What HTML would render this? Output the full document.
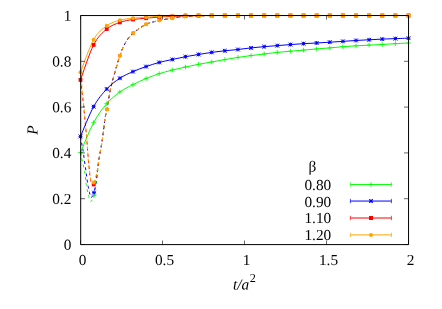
<!DOCTYPE html>
<html><head><meta charset="utf-8"><title>plot</title>
<style>
html,body{margin:0;padding:0;background:#fff;}
body{width:442px;height:309px;position:relative;overflow:hidden;font-family:"Liberation Serif",serif;}
.t{position:absolute;font-family:"Liberation Serif",serif;font-size:15px;line-height:17px;height:17px;color:#000;white-space:nowrap;}
</style></head><body>
<svg width="442" height="309" viewBox="0 0 442 309" style="position:absolute;left:0;top:0">
<rect width="442" height="309" fill="#fff"/>
<path d="M80.50,152.50 C80.75,153.67 81.32,156.32 82.00,159.50 C82.68,162.68 83.93,167.68 84.60,171.60 C85.27,175.52 85.57,179.97 86.00,183.00 C86.43,186.03 86.78,187.77 87.20,189.80 C87.62,191.83 87.97,193.28 88.50,195.20 C89.03,197.12 89.78,200.53 90.40,201.30 C91.02,202.07 91.60,200.75 92.20,199.80 C92.80,198.85 93.30,198.40 94.00,195.60" stroke="#00ff00" stroke-width="1" fill="none" stroke-dasharray="2.9 3.3"/>
<path d="M211.60,15.50 C209.42,15.55 202.95,15.65 198.50,15.80 C194.05,15.95 189.27,16.00 184.90,16.40 C180.53,16.80 176.57,17.52 172.30,18.20 C168.03,18.88 163.67,19.48 159.30,20.50 C154.93,21.52 150.45,22.20 146.10,24.30 C141.75,26.40 136.63,30.07 133.20,33.10 C129.77,36.13 127.72,38.73 125.50,42.50 C123.28,46.27 121.73,50.48 119.90,55.70 C118.07,60.92 116.08,68.17 114.50,73.80 C112.92,79.43 111.65,83.55 110.40,89.50 C109.15,95.45 107.90,104.72 107.00,109.50 C106.10,114.28 105.68,113.82 105.00,118.20 C104.32,122.58 103.58,130.75 102.90,135.80 C102.22,140.85 101.58,144.40 100.90,148.50 C100.22,152.60 99.35,156.48 98.80,160.40 C98.25,164.32 98.00,168.23 97.60,172.00 C97.20,175.77 97.00,179.07 96.40,183.00 C95.80,186.93 94.70,192.80 94.00,195.60" stroke="#00ff00" stroke-width="1" fill="none" stroke-dasharray="2.9 3.3" stroke-dashoffset="-0.6"/>
<path d="M80.50,136.60 C80.72,137.83 81.37,141.63 81.80,144.00 C82.23,146.37 82.65,147.97 83.10,150.80 C83.55,153.63 84.02,157.55 84.50,161.00 C84.98,164.45 85.57,168.33 86.00,171.50 C86.43,174.67 86.73,177.48 87.10,180.00 C87.47,182.52 87.80,184.52 88.20,186.60 C88.60,188.68 89.08,190.72 89.50,192.50 C89.92,194.28 90.22,196.67 90.70,197.30 C91.18,197.93 91.85,197.08 92.40,196.30 C92.95,195.52 93.37,195.15 94.00,192.60" stroke="#0000ff" stroke-width="1" fill="none" stroke-dasharray="2.9 3.3"/>
<path d="M211.60,15.50 C209.42,15.55 202.95,15.65 198.50,15.80 C194.05,15.95 189.27,16.00 184.90,16.40 C180.53,16.80 176.57,17.52 172.30,18.20 C168.03,18.88 163.67,19.48 159.30,20.50 C154.93,21.52 150.45,22.20 146.10,24.30 C141.75,26.40 136.63,30.07 133.20,33.10 C129.77,36.13 127.72,38.73 125.50,42.50 C123.28,46.27 121.73,50.48 119.90,55.70 C118.07,60.92 116.08,68.17 114.50,73.80 C112.92,79.43 111.65,83.55 110.40,89.50 C109.15,95.45 107.90,104.72 107.00,109.50 C106.10,114.28 105.68,113.82 105.00,118.20 C104.32,122.58 103.58,130.75 102.90,135.80 C102.22,140.85 101.58,144.40 100.90,148.50 C100.22,152.60 99.38,156.57 98.80,160.40 C98.22,164.23 97.83,168.07 97.40,171.50 C96.97,174.93 96.77,177.48 96.20,181.00 C95.63,184.52 94.63,190.05 94.00,192.60" stroke="#0000ff" stroke-width="1" fill="none" stroke-dasharray="2.9 3.3" stroke-dashoffset="-1.3"/>
<path d="M80.50,79.90 C80.78,82.08 81.53,87.15 82.20,93.00 C82.87,98.85 83.73,107.17 84.50,115.00 C85.27,122.83 86.15,132.50 86.80,140.00 C87.45,147.50 87.82,153.58 88.40,160.00 C88.98,166.42 89.73,174.62 90.30,178.50 C90.87,182.38 91.23,182.30 91.80,183.30 C92.37,184.30 93.08,185.13 93.70,184.50" stroke="#ff0000" stroke-width="1" fill="none" stroke-dasharray="2.9 3.3"/>
<path d="M211.60,15.50 C209.42,15.55 202.95,15.65 198.50,15.80 C194.05,15.95 189.27,16.00 184.90,16.40 C180.53,16.80 176.57,17.52 172.30,18.20 C168.03,18.88 163.67,19.48 159.30,20.50 C154.93,21.52 150.45,22.20 146.10,24.30 C141.75,26.40 136.63,30.07 133.20,33.10 C129.77,36.13 127.72,38.73 125.50,42.50 C123.28,46.27 121.73,50.48 119.90,55.70 C118.07,60.92 116.08,68.17 114.50,73.80 C112.92,79.43 111.65,83.55 110.40,89.50 C109.15,95.45 107.90,104.72 107.00,109.50 C106.10,114.28 105.68,113.82 105.00,118.20 C104.32,122.58 103.58,130.75 102.90,135.80 C102.22,140.85 101.58,144.40 100.90,148.50 C100.22,152.60 99.42,156.65 98.80,160.40 C98.18,164.15 97.75,167.82 97.20,171.00 C96.65,174.18 96.08,177.25 95.50,179.50 C94.92,181.75 94.32,183.87 93.70,184.50" stroke="#ff0000" stroke-width="1" fill="none" stroke-dasharray="2.9 3.3" stroke-dashoffset="-0.3"/>
<path d="M80.50,72.20 C80.73,74.50 81.27,79.53 81.90,86.00 C82.53,92.47 83.50,102.33 84.30,111.00 C85.10,119.67 86.03,129.83 86.70,138.00 C87.37,146.17 87.70,153.42 88.30,160.00 C88.90,166.58 89.72,173.87 90.30,177.50 C90.88,181.13 91.23,180.97 91.80,181.80 C92.37,182.63 93.08,183.13 93.70,182.50" stroke="#ffa500" stroke-width="1" fill="none" stroke-dasharray="2.9 3.3"/>
<path d="M211.60,15.50 C209.42,15.55 202.95,15.65 198.50,15.80 C194.05,15.95 189.27,16.00 184.90,16.40 C180.53,16.80 176.57,17.52 172.30,18.20 C168.03,18.88 163.67,19.48 159.30,20.50 C154.93,21.52 150.45,22.20 146.10,24.30 C141.75,26.40 136.63,30.07 133.20,33.10 C129.77,36.13 127.72,38.73 125.50,42.50 C123.28,46.27 121.73,50.48 119.90,55.70 C118.07,60.92 116.08,68.17 114.50,73.80 C112.92,79.43 111.65,83.55 110.40,89.50 C109.15,95.45 107.90,104.72 107.00,109.50 C106.10,114.28 105.68,113.82 105.00,118.20 C104.32,122.58 103.58,130.75 102.90,135.80 C102.22,140.85 101.58,144.40 100.90,148.50 C100.22,152.60 99.40,156.68 98.80,160.40 C98.20,164.12 97.85,167.87 97.30,170.80 C96.75,173.73 96.10,176.05 95.50,178.00 C94.90,179.95 94.32,181.87 93.70,182.50" stroke="#ffa500" stroke-width="1" fill="none" stroke-dasharray="2.9 3.3" stroke-dashoffset="0.0"/>
<path d="M80.50,152.44 C82.69,147.48 89.25,130.80 93.62,122.67 C97.99,114.54 102.37,108.78 106.74,103.66 C111.11,98.55 115.49,95.15 119.86,91.99 C124.23,88.82 128.61,86.91 132.98,84.66 C137.35,82.41 141.73,80.31 146.10,78.47 C150.47,76.64 154.85,75.08 159.22,73.67 C163.59,72.25 167.97,71.11 172.34,70.00 C176.71,68.90 181.09,67.98 185.46,67.03 C189.83,66.07 194.21,65.12 198.58,64.28 C202.95,63.44 207.33,62.77 211.70,61.99 C216.07,61.20 220.45,60.35 224.82,59.58 C229.19,58.82 233.57,58.07 237.94,57.41 C242.31,56.74 246.69,56.15 251.06,55.58 C255.43,55.00 259.81,54.51 264.18,53.97 C268.55,53.44 272.93,52.83 277.30,52.37 C281.67,51.91 286.05,51.61 290.42,51.22 C294.79,50.84 299.17,50.46 303.54,50.08 C307.91,49.70 312.29,49.30 316.66,48.93 C321.03,48.57 325.41,48.27 329.78,47.90 C334.15,47.53 338.53,47.06 342.90,46.71 C347.27,46.37 351.65,46.09 356.02,45.82 C360.39,45.55 364.77,45.33 369.14,45.11 C373.51,44.88 377.89,44.71 382.26,44.47 C386.63,44.23 391.01,43.92 395.38,43.67 C399.75,43.42 406.31,43.09 408.50,42.98" stroke="#00ff00" stroke-width="1" fill="none"/>
<path d="M80.50,136.41 C82.69,131.45 89.25,114.54 93.62,106.64 C97.99,98.74 102.37,93.74 106.74,89.01 C111.11,84.28 115.49,81.15 119.86,78.25 C124.23,75.35 128.61,73.55 132.98,71.60 C137.35,69.66 141.73,68.09 146.10,66.57 C150.47,65.04 154.85,63.63 159.22,62.44 C163.59,61.26 167.97,60.42 172.34,59.47 C176.71,58.51 181.09,57.56 185.46,56.72 C189.83,55.88 194.21,55.16 198.58,54.43 C202.95,53.70 207.33,52.98 211.70,52.37 C216.07,51.76 220.45,51.24 224.82,50.77 C229.19,50.29 233.57,49.98 237.94,49.51 C242.31,49.03 246.69,48.38 251.06,47.90 C255.43,47.43 259.81,47.03 264.18,46.64 C268.55,46.26 272.93,45.96 277.30,45.61 C281.67,45.27 286.05,44.91 290.42,44.58 C294.79,44.26 299.17,43.93 303.54,43.67 C307.91,43.40 312.29,43.22 316.66,42.98 C321.03,42.74 325.41,42.47 329.78,42.20 C334.15,41.93 338.53,41.67 342.90,41.38 C347.27,41.09 351.65,40.73 356.02,40.46 C360.39,40.19 364.77,40.00 369.14,39.77 C373.51,39.55 377.89,39.28 382.26,39.09 C386.63,38.90 391.01,38.78 395.38,38.63 C399.75,38.48 406.31,38.25 408.50,38.17" stroke="#0000ff" stroke-width="1" fill="none"/>
<path d="M80.50,79.90 C82.69,74.07 89.25,53.38 93.62,44.90 C97.99,36.42 102.37,32.80 106.74,29.05 C111.11,25.30 115.49,23.99 119.86,22.40 C124.23,20.81 128.61,20.20 132.98,19.50 C137.35,18.80 141.73,18.62 146.10,18.20 C150.47,17.78 154.85,17.32 159.22,17.00 C163.59,16.68 167.97,16.48 172.34,16.30 C176.71,16.12 181.09,16.02 185.46,15.90 C189.83,15.78 194.21,15.67 198.58,15.60 C202.95,15.53 207.33,15.52 211.70,15.50 C216.07,15.48 220.45,15.50 224.82,15.50 C229.19,15.50 233.57,15.50 237.94,15.50 C242.31,15.50 246.69,15.50 251.06,15.50 C255.43,15.50 259.81,15.50 264.18,15.50 C268.55,15.50 272.93,15.50 277.30,15.50 C281.67,15.50 286.05,15.50 290.42,15.50 C294.79,15.50 299.17,15.50 303.54,15.50 C307.91,15.50 312.29,15.50 316.66,15.50 C321.03,15.50 325.41,15.50 329.78,15.50 C334.15,15.50 338.53,15.50 342.90,15.50 C347.27,15.50 351.65,15.50 356.02,15.50 C360.39,15.50 364.77,15.50 369.14,15.50 C373.51,15.50 377.89,15.50 382.26,15.50 C386.63,15.50 391.01,15.50 395.38,15.50 C399.75,15.50 406.31,15.50 408.50,15.50" stroke="#ff0000" stroke-width="1" fill="none"/>
<path d="M80.50,72.20 C82.69,66.78 89.25,47.43 93.62,39.70 C97.99,31.97 102.37,29.05 106.74,25.80 C111.11,22.55 115.49,21.47 119.86,20.20 C124.23,18.93 128.61,18.69 132.98,18.20 C137.35,17.71 141.73,17.58 146.10,17.25 C150.47,16.92 154.85,16.46 159.22,16.20 C163.59,15.94 167.97,15.82 172.34,15.70 C176.71,15.58 181.09,15.53 185.46,15.50 C189.83,15.47 194.21,15.50 198.58,15.50 C202.95,15.50 207.33,15.50 211.70,15.50 C216.07,15.50 220.45,15.50 224.82,15.50 C229.19,15.50 233.57,15.50 237.94,15.50 C242.31,15.50 246.69,15.50 251.06,15.50 C255.43,15.50 259.81,15.50 264.18,15.50 C268.55,15.50 272.93,15.50 277.30,15.50 C281.67,15.50 286.05,15.50 290.42,15.50 C294.79,15.50 299.17,15.50 303.54,15.50 C307.91,15.50 312.29,15.50 316.66,15.50 C321.03,15.50 325.41,15.50 329.78,15.50 C334.15,15.50 338.53,15.50 342.90,15.50 C347.27,15.50 351.65,15.50 356.02,15.50 C360.39,15.50 364.77,15.50 369.14,15.50 C373.51,15.50 377.89,15.50 382.26,15.50 C386.63,15.50 391.01,15.50 395.38,15.50 C399.75,15.50 406.31,15.50 408.50,15.50" stroke="#ffa500" stroke-width="1" fill="none"/>
<path d="M78.20,152.44H82.80M80.50,150.14V154.74" stroke="#00ff00" stroke-width="0.85" fill="none"/>
<path d="M91.32,122.67H95.92M93.62,120.37V124.97" stroke="#00ff00" stroke-width="0.85" fill="none"/>
<path d="M104.44,103.66H109.04M106.74,101.36V105.96" stroke="#00ff00" stroke-width="0.85" fill="none"/>
<path d="M117.56,91.99H122.16M119.86,89.69V94.29" stroke="#00ff00" stroke-width="0.85" fill="none"/>
<path d="M130.68,84.66H135.28M132.98,82.36V86.96" stroke="#00ff00" stroke-width="0.85" fill="none"/>
<path d="M143.80,78.47H148.40M146.10,76.17V80.77" stroke="#00ff00" stroke-width="0.85" fill="none"/>
<path d="M156.92,73.67H161.52M159.22,71.37V75.97" stroke="#00ff00" stroke-width="0.85" fill="none"/>
<path d="M170.04,70.00H174.64M172.34,67.70V72.30" stroke="#00ff00" stroke-width="0.85" fill="none"/>
<path d="M183.16,67.03H187.76M185.46,64.73V69.33" stroke="#00ff00" stroke-width="0.85" fill="none"/>
<path d="M196.28,64.28H200.88M198.58,61.98V66.58" stroke="#00ff00" stroke-width="0.85" fill="none"/>
<path d="M209.40,61.99H214.00M211.70,59.69V64.29" stroke="#00ff00" stroke-width="0.85" fill="none"/>
<path d="M222.52,59.58H227.12M224.82,57.28V61.88" stroke="#00ff00" stroke-width="0.85" fill="none"/>
<path d="M235.64,57.41H240.24M237.94,55.11V59.71" stroke="#00ff00" stroke-width="0.85" fill="none"/>
<path d="M248.76,55.58H253.36M251.06,53.28V57.88" stroke="#00ff00" stroke-width="0.85" fill="none"/>
<path d="M261.88,53.97H266.48M264.18,51.67V56.27" stroke="#00ff00" stroke-width="0.85" fill="none"/>
<path d="M275.00,52.37H279.60M277.30,50.07V54.67" stroke="#00ff00" stroke-width="0.85" fill="none"/>
<path d="M288.12,51.22H292.72M290.42,48.92V53.52" stroke="#00ff00" stroke-width="0.85" fill="none"/>
<path d="M301.24,50.08H305.84M303.54,47.78V52.38" stroke="#00ff00" stroke-width="0.85" fill="none"/>
<path d="M314.36,48.93H318.96M316.66,46.63V51.23" stroke="#00ff00" stroke-width="0.85" fill="none"/>
<path d="M327.48,47.90H332.08M329.78,45.60V50.20" stroke="#00ff00" stroke-width="0.85" fill="none"/>
<path d="M340.60,46.71H345.20M342.90,44.41V49.01" stroke="#00ff00" stroke-width="0.85" fill="none"/>
<path d="M353.72,45.82H358.32M356.02,43.52V48.12" stroke="#00ff00" stroke-width="0.85" fill="none"/>
<path d="M366.84,45.11H371.44M369.14,42.81V47.41" stroke="#00ff00" stroke-width="0.85" fill="none"/>
<path d="M379.96,44.47H384.56M382.26,42.17V46.77" stroke="#00ff00" stroke-width="0.85" fill="none"/>
<path d="M393.08,43.67H397.68M395.38,41.37V45.97" stroke="#00ff00" stroke-width="0.85" fill="none"/>
<path d="M406.20,42.98H410.80M408.50,40.68V45.28" stroke="#00ff00" stroke-width="0.85" fill="none"/>
<path d="M78.60,136.41H82.40M80.50,134.51V138.31M78.60,134.51L82.40,138.31M78.60,138.31L82.40,134.51" stroke="#0000ff" stroke-width="1.0" fill="none"/>
<path d="M91.72,106.64H95.52M93.62,104.74V108.54M91.72,104.74L95.52,108.54M91.72,108.54L95.52,104.74" stroke="#0000ff" stroke-width="1.0" fill="none"/>
<path d="M104.84,89.01H108.64M106.74,87.11V90.91M104.84,87.11L108.64,90.91M104.84,90.91L108.64,87.11" stroke="#0000ff" stroke-width="1.0" fill="none"/>
<path d="M117.96,78.25H121.76M119.86,76.35V80.15M117.96,76.35L121.76,80.15M117.96,80.15L121.76,76.35" stroke="#0000ff" stroke-width="1.0" fill="none"/>
<path d="M131.08,71.60H134.88M132.98,69.70V73.50M131.08,69.70L134.88,73.50M131.08,73.50L134.88,69.70" stroke="#0000ff" stroke-width="1.0" fill="none"/>
<path d="M144.20,66.57H148.00M146.10,64.67V68.47M144.20,64.67L148.00,68.47M144.20,68.47L148.00,64.67" stroke="#0000ff" stroke-width="1.0" fill="none"/>
<path d="M157.32,62.44H161.12M159.22,60.54V64.34M157.32,60.54L161.12,64.34M157.32,64.34L161.12,60.54" stroke="#0000ff" stroke-width="1.0" fill="none"/>
<path d="M170.44,59.47H174.24M172.34,57.57V61.37M170.44,57.57L174.24,61.37M170.44,61.37L174.24,57.57" stroke="#0000ff" stroke-width="1.0" fill="none"/>
<path d="M183.56,56.72H187.36M185.46,54.82V58.62M183.56,54.82L187.36,58.62M183.56,58.62L187.36,54.82" stroke="#0000ff" stroke-width="1.0" fill="none"/>
<path d="M196.68,54.43H200.48M198.58,52.53V56.33M196.68,52.53L200.48,56.33M196.68,56.33L200.48,52.53" stroke="#0000ff" stroke-width="1.0" fill="none"/>
<path d="M209.80,52.37H213.60M211.70,50.47V54.27M209.80,50.47L213.60,54.27M209.80,54.27L213.60,50.47" stroke="#0000ff" stroke-width="1.0" fill="none"/>
<path d="M222.92,50.77H226.72M224.82,48.87V52.67M222.92,48.87L226.72,52.67M222.92,52.67L226.72,48.87" stroke="#0000ff" stroke-width="1.0" fill="none"/>
<path d="M236.04,49.51H239.84M237.94,47.61V51.41M236.04,47.61L239.84,51.41M236.04,51.41L239.84,47.61" stroke="#0000ff" stroke-width="1.0" fill="none"/>
<path d="M249.16,47.90H252.96M251.06,46.00V49.80M249.16,46.00L252.96,49.80M249.16,49.80L252.96,46.00" stroke="#0000ff" stroke-width="1.0" fill="none"/>
<path d="M262.28,46.64H266.08M264.18,44.74V48.54M262.28,44.74L266.08,48.54M262.28,48.54L266.08,44.74" stroke="#0000ff" stroke-width="1.0" fill="none"/>
<path d="M275.40,45.61H279.20M277.30,43.71V47.51M275.40,43.71L279.20,47.51M275.40,47.51L279.20,43.71" stroke="#0000ff" stroke-width="1.0" fill="none"/>
<path d="M288.52,44.58H292.32M290.42,42.68V46.48M288.52,42.68L292.32,46.48M288.52,46.48L292.32,42.68" stroke="#0000ff" stroke-width="1.0" fill="none"/>
<path d="M301.64,43.67H305.44M303.54,41.77V45.57M301.64,41.77L305.44,45.57M301.64,45.57L305.44,41.77" stroke="#0000ff" stroke-width="1.0" fill="none"/>
<path d="M314.76,42.98H318.56M316.66,41.08V44.88M314.76,41.08L318.56,44.88M314.76,44.88L318.56,41.08" stroke="#0000ff" stroke-width="1.0" fill="none"/>
<path d="M327.88,42.20H331.68M329.78,40.30V44.10M327.88,40.30L331.68,44.10M327.88,44.10L331.68,40.30" stroke="#0000ff" stroke-width="1.0" fill="none"/>
<path d="M341.00,41.38H344.80M342.90,39.48V43.28M341.00,39.48L344.80,43.28M341.00,43.28L344.80,39.48" stroke="#0000ff" stroke-width="1.0" fill="none"/>
<path d="M354.12,40.46H357.92M356.02,38.56V42.36M354.12,38.56L357.92,42.36M354.12,42.36L357.92,38.56" stroke="#0000ff" stroke-width="1.0" fill="none"/>
<path d="M367.24,39.77H371.04M369.14,37.87V41.67M367.24,37.87L371.04,41.67M367.24,41.67L371.04,37.87" stroke="#0000ff" stroke-width="1.0" fill="none"/>
<path d="M380.36,39.09H384.16M382.26,37.19V40.99M380.36,37.19L384.16,40.99M380.36,40.99L384.16,37.19" stroke="#0000ff" stroke-width="1.0" fill="none"/>
<path d="M393.48,38.63H397.28M395.38,36.73V40.53M393.48,36.73L397.28,40.53M393.48,40.53L397.28,36.73" stroke="#0000ff" stroke-width="1.0" fill="none"/>
<path d="M406.60,38.17H410.40M408.50,36.27V40.07M406.60,36.27L410.40,40.07M406.60,40.07L410.40,36.27" stroke="#0000ff" stroke-width="1.0" fill="none"/>
<rect x="78.60" y="78.00" width="3.80" height="3.80" fill="#ff0000"/>
<rect x="91.72" y="43.00" width="3.80" height="3.80" fill="#ff0000"/>
<rect x="104.84" y="27.15" width="3.80" height="3.80" fill="#ff0000"/>
<rect x="117.96" y="20.50" width="3.80" height="3.80" fill="#ff0000"/>
<rect x="131.08" y="17.60" width="3.80" height="3.80" fill="#ff0000"/>
<rect x="144.20" y="16.30" width="3.80" height="3.80" fill="#ff0000"/>
<rect x="157.32" y="15.10" width="3.80" height="3.80" fill="#ff0000"/>
<rect x="170.44" y="14.40" width="3.80" height="3.80" fill="#ff0000"/>
<rect x="183.56" y="14.00" width="3.80" height="3.80" fill="#ff0000"/>
<rect x="196.68" y="13.70" width="3.80" height="3.80" fill="#ff0000"/>
<rect x="209.80" y="13.60" width="3.80" height="3.80" fill="#ff0000"/>
<rect x="222.92" y="13.60" width="3.80" height="3.80" fill="#ff0000"/>
<rect x="236.04" y="13.60" width="3.80" height="3.80" fill="#ff0000"/>
<rect x="249.16" y="13.60" width="3.80" height="3.80" fill="#ff0000"/>
<rect x="262.28" y="13.60" width="3.80" height="3.80" fill="#ff0000"/>
<rect x="275.40" y="13.60" width="3.80" height="3.80" fill="#ff0000"/>
<rect x="288.52" y="13.60" width="3.80" height="3.80" fill="#ff0000"/>
<rect x="301.64" y="13.60" width="3.80" height="3.80" fill="#ff0000"/>
<rect x="314.76" y="13.60" width="3.80" height="3.80" fill="#ff0000"/>
<rect x="327.88" y="13.60" width="3.80" height="3.80" fill="#ff0000"/>
<rect x="341.00" y="13.60" width="3.80" height="3.80" fill="#ff0000"/>
<rect x="354.12" y="13.60" width="3.80" height="3.80" fill="#ff0000"/>
<rect x="367.24" y="13.60" width="3.80" height="3.80" fill="#ff0000"/>
<rect x="380.36" y="13.60" width="3.80" height="3.80" fill="#ff0000"/>
<rect x="393.48" y="13.60" width="3.80" height="3.80" fill="#ff0000"/>
<rect x="406.60" y="13.60" width="3.80" height="3.80" fill="#ff0000"/>
<circle cx="80.50" cy="72.20" r="2.00" fill="#ffa500"/>
<circle cx="93.62" cy="39.70" r="2.00" fill="#ffa500"/>
<circle cx="106.74" cy="25.80" r="2.00" fill="#ffa500"/>
<circle cx="119.86" cy="20.20" r="2.00" fill="#ffa500"/>
<circle cx="132.98" cy="18.20" r="2.00" fill="#ffa500"/>
<circle cx="146.10" cy="17.25" r="2.00" fill="#ffa500"/>
<circle cx="159.22" cy="16.20" r="2.00" fill="#ffa500"/>
<circle cx="172.34" cy="15.70" r="2.00" fill="#ffa500"/>
<rect x="183.36" y="13.00" width="4.2" height="5" rx="1.5" fill="#ffa500"/>
<rect x="196.48" y="13.00" width="4.2" height="5" rx="1.5" fill="#ffa500"/>
<rect x="209.60" y="13.00" width="4.2" height="5" rx="1.5" fill="#ffa500"/>
<rect x="222.72" y="13.00" width="4.2" height="5" rx="1.5" fill="#ffa500"/>
<rect x="235.84" y="13.00" width="4.2" height="5" rx="1.5" fill="#ffa500"/>
<rect x="248.96" y="13.00" width="4.2" height="5" rx="1.5" fill="#ffa500"/>
<rect x="262.08" y="13.00" width="4.2" height="5" rx="1.5" fill="#ffa500"/>
<rect x="275.20" y="13.00" width="4.2" height="5" rx="1.5" fill="#ffa500"/>
<rect x="288.32" y="13.00" width="4.2" height="5" rx="1.5" fill="#ffa500"/>
<rect x="301.44" y="13.00" width="4.2" height="5" rx="1.5" fill="#ffa500"/>
<rect x="314.56" y="13.00" width="4.2" height="5" rx="1.5" fill="#ffa500"/>
<rect x="327.68" y="13.00" width="4.2" height="5" rx="1.5" fill="#ffa500"/>
<rect x="340.80" y="13.00" width="4.2" height="5" rx="1.5" fill="#ffa500"/>
<rect x="353.92" y="13.00" width="4.2" height="5" rx="1.5" fill="#ffa500"/>
<rect x="367.04" y="13.00" width="4.2" height="5" rx="1.5" fill="#ffa500"/>
<rect x="380.16" y="13.00" width="4.2" height="5" rx="1.5" fill="#ffa500"/>
<rect x="393.28" y="13.00" width="4.2" height="5" rx="1.5" fill="#ffa500"/>
<rect x="406.40" y="13.00" width="4.2" height="5" rx="1.5" fill="#ffa500"/>
<path d="M91.70,195.60H96.30M94.00,193.30V197.90" stroke="#00ff00" stroke-width="0.85" fill="none"/>
<path d="M92.10,192.60H95.90M94.00,190.70V194.50M92.10,190.70L95.90,194.50M92.10,194.50L95.90,190.70" stroke="#0000ff" stroke-width="1.0" fill="none"/>
<rect x="91.80" y="182.60" width="3.80" height="3.80" fill="#ff0000"/>
<circle cx="93.70" cy="182.50" r="2.00" fill="#ffa500"/>
<rect x="105.50" y="108.00" width="3.00" height="3.00" fill="#ff0000"/>
<circle cx="107.00" cy="109.50" r="2.00" fill="#ffa500"/>
<rect x="118.40" y="54.20" width="3.00" height="3.00" fill="#ff0000"/>
<circle cx="119.90" cy="55.70" r="2.00" fill="#ffa500"/>
<rect x="131.70" y="31.60" width="3.00" height="3.00" fill="#ff0000"/>
<circle cx="133.20" cy="33.10" r="2.00" fill="#ffa500"/>
<rect x="144.60" y="22.80" width="3.00" height="3.00" fill="#ff0000"/>
<circle cx="146.10" cy="24.30" r="2.00" fill="#ffa500"/>
<rect x="157.80" y="19.00" width="3.00" height="3.00" fill="#ff0000"/>
<circle cx="159.30" cy="20.50" r="2.00" fill="#ffa500"/>
<rect x="170.80" y="16.70" width="3.00" height="3.00" fill="#ff0000"/>
<circle cx="172.30" cy="18.20" r="2.00" fill="#ffa500"/>
<rect x="183.40" y="14.90" width="3.00" height="3.00" fill="#ff0000"/>
<circle cx="184.90" cy="16.40" r="2.00" fill="#ffa500"/>
<rect x="197.00" y="14.30" width="3.00" height="3.00" fill="#ff0000"/>
<circle cx="198.50" cy="15.80" r="2.00" fill="#ffa500"/>
<rect x="210.10" y="14.00" width="3.00" height="3.00" fill="#ff0000"/>
<circle cx="211.60" cy="15.50" r="2.00" fill="#ffa500"/>
<path d="M80.7,15.55H408.55V244.6H80.7Z" fill="none" stroke="#000" stroke-width="1"/>
<path d="M80.5,244.5V240.5M80.5,15.5V19.5M162.5,244.5V240.5M162.5,15.5V19.5M244.5,244.5V240.5M244.5,15.5V19.5M326.5,244.5V240.5M326.5,15.5V19.5M408.5,244.5V240.5M408.5,15.5V19.5M80.5,244.50H85M408.5,244.50H404M80.5,198.70H85M408.5,198.70H404M80.5,152.90H85M408.5,152.90H404M80.5,107.10H85M408.5,107.10H404M80.5,61.30H85M408.5,61.30H404M80.5,15.50H85M408.5,15.50H404" stroke="#000" stroke-width="0.6" fill="none"/>
<path d="M350.3,184.45H391.5" stroke="#00ff00" stroke-width="1" fill="none"/>
<path d="M350.4,182.25V186.65M391.4,182.25V186.65" stroke="#00ff00" stroke-width="0.7" fill="none"/>
<path d="M368.70,184.45H373.30M371.00,182.15V186.75" stroke="#00ff00" stroke-width="0.85" fill="none"/>
<path d="M350.3,201.05H391.5" stroke="#0000ff" stroke-width="1" fill="none"/>
<path d="M350.4,198.85V203.25M391.4,198.85V203.25" stroke="#0000ff" stroke-width="0.7" fill="none"/>
<path d="M369.10,201.05H372.90M371.00,199.15V202.95M369.10,199.15L372.90,202.95M369.10,202.95L372.90,199.15" stroke="#0000ff" stroke-width="1.0" fill="none"/>
<path d="M350.3,218.00H391.5" stroke="#ff0000" stroke-width="1" fill="none"/>
<path d="M350.4,215.80V220.20M391.4,215.80V220.20" stroke="#ff0000" stroke-width="0.7" fill="none"/>
<rect x="369.00" y="216.00" width="4.00" height="4.00" fill="#ff0000"/>
<path d="M350.3,234.90H391.5" stroke="#ffa500" stroke-width="1" fill="none"/>
<path d="M350.4,232.70V237.10M391.4,232.70V237.10" stroke="#ffa500" stroke-width="0.7" fill="none"/>
<circle cx="371.00" cy="234.90" r="2.00" fill="#ffa500"/>
<g style="font-family:'Liberation Serif',serif;will-change:transform" font-size="15.3" fill="#000" text-rendering="geometricPrecision">
<text x="71.30" y="249.70" text-anchor="end" transform="rotate(0.04 71.3 249.7)" >0</text>
<text x="71.30" y="203.90" text-anchor="end" transform="rotate(0.04 71.3 203.9)" >0.2</text>
<text x="71.30" y="158.10" text-anchor="end" transform="rotate(0.04 71.3 158.1)" >0.4</text>
<text x="71.30" y="112.30" text-anchor="end" transform="rotate(0.04 71.3 112.3)" >0.6</text>
<text x="71.30" y="66.50" text-anchor="end" transform="rotate(0.04 71.3 66.5)" >0.8</text>
<text x="71.30" y="20.70" text-anchor="end" transform="rotate(0.04 71.3 20.7)" >1</text>
<text x="82.50" y="265.00" text-anchor="middle" transform="rotate(0.04 82.5 265.0)" >0</text>
<text x="164.50" y="265.00" text-anchor="middle" transform="rotate(0.04 164.5 265.0)" >0.5</text>
<text x="246.50" y="265.00" text-anchor="middle" transform="rotate(0.04 246.5 265.0)" >1</text>
<text x="328.50" y="265.00" text-anchor="middle" transform="rotate(0.04 328.5 265.0)" >1.5</text>
<text x="410.50" y="265.00" text-anchor="middle" transform="rotate(0.04 410.5 265.0)" >2</text>
<text x="331.20" y="190.00" text-anchor="end" transform="rotate(0.04 331.2 190.0)" >0.80</text>
<text x="331.20" y="207.00" text-anchor="end" transform="rotate(0.04 331.2 207.0)" >0.90</text>
<text x="331.20" y="223.00" text-anchor="end" transform="rotate(0.04 331.2 223.0)" >1.10</text>
<text x="331.20" y="240.00" text-anchor="end" transform="rotate(0.04 331.2 240.0)" >1.20</text>
<text x="308.50" y="171.50" text-anchor="start" transform="rotate(0.04 308.5 171.5)" >&#946;</text>
<text x="233" y="289.6" font-style="italic" transform="rotate(0.04 233 289)">t/a<tspan font-style="normal" font-size="12.2" dx="0.5" dy="-7.6">2</tspan></text>
<text x="0" y="0" font-style="italic" text-anchor="middle" transform="translate(37.6,130) rotate(-90.04)">P</text>
</g>
</svg>

</body></html>
